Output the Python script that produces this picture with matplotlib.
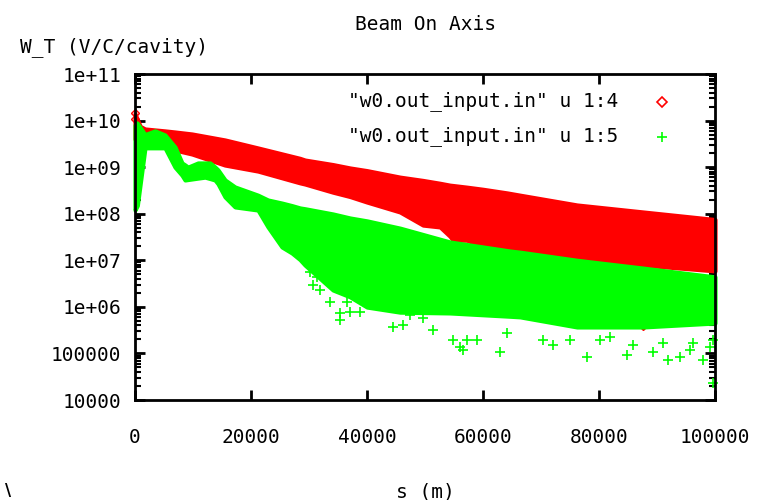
import matplotlib
matplotlib.use("Agg")
import matplotlib.pyplot as plt
from matplotlib.ticker import FixedLocator, FixedFormatter, LogLocator, NullFormatter
import numpy as np

# ---- data ----
# column 4 (red): band of points, upper and lower envelope
red_s_upper = [0, 900, 1720, 5170, 9830, 15520, 21210, 29310, 37070, 45690, 54310, 66380, 76210, 87590, 99140, 100000]
red_upper = [1.4e10, 7.5e9, 6.6e9, 6.0e9, 5.15e9, 3.83e9, 2.58e9, 1.42e9, 9.6e8, 6.1e8, 4.1e8, 2.5e8, 1.54e8, 1.09e8, 7.7e7, 7.5e7]
red_s_lower = [0, 900, 6900, 15500, 28450, 34140, 40000, 45690, 49660, 52590, 54830, 57240, 60000, 64140, 76210, 87590, 100000]
red_lower = [4e9, 3.5e9, 2.33e9, 1.11e9, 4.6e8, 2.9e8, 1.78e8, 1.09e8, 5.7e7, 5.2e7, 2.7e7, 2.7e7, 1.93e7, 1.66e7, 1.12e7, 7.9e6, 5.9e6]

# column 5 (green): band of points, upper and lower envelope
green_s_upper = [0, 345, 1720, 3450, 5170, 6900, 8100, 9140, 10860, 12930, 14310, 15520, 17240, 21200, 22930, 28450,
                 37070, 45690, 54310, 64660, 76210, 87590, 100000]
green_upper = [8.0e9, 8.9e9, 5.0e9, 6.0e9, 4.9e9, 2.7e9, 1.23e9, 1.0e9, 1.23e9, 1.23e9, 8.7e8, 5.3e8, 3.75e8, 2.5e8, 1.97e8, 1.33e8,
               8.1e7, 4.9e7, 2.47e7, 1.58e7, 1.0e7, 6.8e6, 4.4e6]
green_s_lower = [0, 400, 1720, 5170, 6900, 8620, 12070, 13790, 15520, 17240, 21200, 22930, 25340, 27070, 29310, 34140,
                 40000, 45690, 54310, 66380, 76210, 87590, 100000]
green_lower = [1.2e8, 1.5e8, 2.6e9, 2.6e9, 1.0e9, 5.3e8, 6.1e8, 5.3e8, 2.3e8, 1.4e8, 1.2e8, 5.2e7, 1.93e7, 1.43e7, 7.9e6, 2.3e6,
               9.9e5, 7.7e5, 7.4e5, 6.1e5, 3.7e5, 3.7e5, 4.5e5]

# isolated green points below the band
green_out_s = [30170, 31380, 30690, 31900, 33620, 35340, 35340, 36550, 37070, 38790, 44480, 46210, 47410, 49660, 51380,
               54830, 56030, 56550, 57240, 58970, 62930, 64140, 70340, 72070, 75000, 77930, 80170, 81900, 84830,
               85860, 89310, 91030, 91900, 93970, 95690, 96210, 97930, 99140, 99660, 99660]
green_out_w = [5.6e6, 4.4e6, 2.9e6, 2.3e6, 1.27e6, 7.4e5, 5.2e5, 1.27e6, 7.7e5, 7.7e5, 3.7e5, 4.1e5, 6.7e5, 5.8e5, 3.2e5,
               1.94e5, 1.37e5, 1.18e5, 1.94e5, 1.94e5, 1.07e5, 2.7e5, 1.94e5, 1.52e5, 1.94e5, 8.4e4, 1.94e5, 2.25e5, 9.2e4,
               1.52e5, 1.07e5, 1.67e5, 7.2e4, 8.4e4, 1.18e5, 1.67e5, 7.2e4, 1.37e5, 1.94e5, 2.3e4]

legend_labels = ['"w0.out_input.in" u 1:4', '"w0.out_input.in" u 1:5']
x_ticks = [0, 20000, 40000, 60000, 80000, 100000]
x_ticklabels = ['0', '20000', '40000', '60000', '80000', '100000']
y_ticks = [1e4, 1e5, 1e6, 1e7, 1e8, 1e9, 1e10, 1e11]
y_ticklabels = ['10000', '100000', '1e+06', '1e+07', '1e+08', '1e+09', '1e+10', '1e+11']

RED = '#ff0000'
GREEN = '#00ff00'
FONT = 'DejaVu Sans Mono'
FS = 14

fig = plt.figure(figsize=(7.69, 5.0), dpi=100)
L, R, T, B = 135, 715, 74, 400
ax = fig.add_axes([L / 769, (500 - B) / 500, (R - L) / 769, (B - T) / 500])

ax.set_yscale('log')
ax.set_xlim(0, 100000)
ax.set_ylim(1e4, 1e11)

# red band
s_r = np.union1d(red_s_upper, red_s_lower)
ax.fill_between(s_r, np.interp(s_r, red_s_lower, red_lower), np.interp(s_r, red_s_upper, red_upper),
                facecolor=RED, edgecolor=RED, lw=3, clip_on=False, zorder=2)
ax.plot([0, 0], [1.1e10, 1.45e10], ls='none', marker='D', ms=4, mfc='none', mec=RED, mew=1, clip_on=False, zorder=2)
ax.plot([87600], [3.6e5], ls='none', marker='D', ms=2, color=RED, zorder=2)

# green band (drawn on top)
s_g = np.union1d(green_s_upper, green_s_lower)
ax.fill_between(s_g, np.interp(s_g, green_s_lower, green_lower), np.interp(s_g, green_s_upper, green_upper),
                facecolor=GREEN, edgecolor=GREEN, lw=3, clip_on=False, zorder=3)
ax.plot(green_out_s, green_out_w, ls='none', marker='+', ms=7, mew=1.2, color=GREEN, clip_on=False, zorder=3)

# axes styling (gnuplot-like)
for sp in ax.spines.values():
    sp.set_linewidth(2)
    sp.set_zorder(5)
ax.xaxis.set_major_locator(FixedLocator(x_ticks))
ax.xaxis.set_major_formatter(FixedFormatter(x_ticklabels))
ax.yaxis.set_major_locator(FixedLocator(y_ticks))
ax.yaxis.set_major_formatter(FixedFormatter(y_ticklabels))
ax.yaxis.set_minor_locator(LogLocator(base=10, subs=np.arange(2, 10), numticks=20))
ax.yaxis.set_minor_formatter(NullFormatter())
ax.tick_params(axis='both', which='major', direction='in', length=7, width=2, top=True, right=True,
               labelsize=FS, colors='black')
ax.tick_params(axis='y', which='minor', direction='in', length=4, width=1.5, right=True)
ax.tick_params(axis='x', which='major', pad=20)
ax.tick_params(axis='y', which='major', pad=10)
for lab in ax.get_xticklabels() + ax.get_yticklabels():
    lab.set_fontfamily(FONT)

# texts
fig.text(425 / 769, 1 - 24 / 500, 'Beam On Axis', ha='center', va='center', fontsize=FS, family=FONT)
fig.text(20 / 769, 1 - 47 / 500, 'W_T (V/C/cavity)', ha='left', va='center', fontsize=FS, family=FONT)
fig.text(425 / 769, 1 - 492 / 500, 's (m)', ha='center', va='center', fontsize=FS, family=FONT)

# key
fig.text(618 / 769, 1 - 101 / 500, legend_labels[0], ha='right', va='center', fontsize=FS, family=FONT)
fig.text(618 / 769, 1 - 136 / 500, legend_labels[1], ha='right', va='center', fontsize=FS, family=FONT)
ax.plot([662 / 769], [1 - 102 / 500], transform=fig.transFigure, marker='D', ms=5, mfc='none', mec=RED, mew=1.2,
        clip_on=False, ls='none')
ax.plot([662 / 769], [1 - 137 / 500], transform=fig.transFigure, marker='+', ms=7, mew=1.2, color=GREEN,
        clip_on=False, ls='none')

# small stray glyph at the bottom-left corner of the original
fig.text(5 / 769, 1 / 500, '\\', ha='left', va='bottom', fontsize=12, family='DejaVu Serif', weight='bold')

fig.savefig('out.png', dpi=100)
